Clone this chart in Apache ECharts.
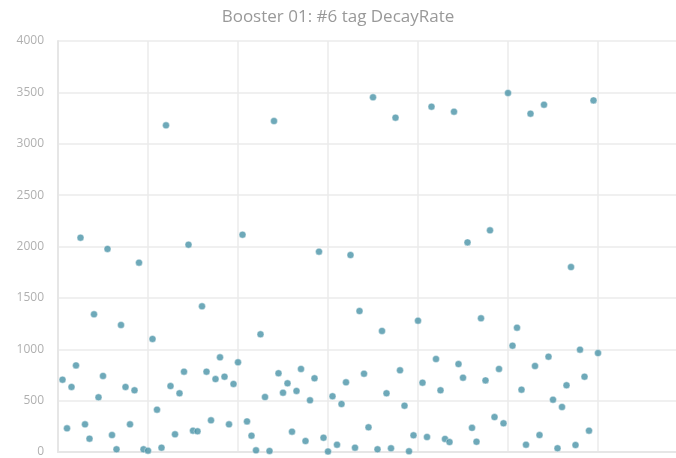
<!DOCTYPE html>
<html>
<head>
<meta charset="utf-8">
<title>Booster 01: #6 tag DecayRate</title>
<script src="https://cdn.jsdelivr.net/npm/echarts@6/dist/echarts.min.js"></script>
<style>
  html, body { margin: 0; padding: 0; background: #fff; }
  #container { width: 676px; height: 458px; }
</style>
</head>
<body>
<div id="container"></div>
<script>
var titleText = 'Booster 01: #6 tag DecayRate';
var yTicks = [0, 500, 1000, 1500, 2000, 2500, 3000, 3500, 4000];
// decay rate per sample, in reading order (sample 1..120)
var decayRate = [
  704, 230, 633, 843, 2086, 269, 130, 1340, 532, 740,
  1976, 165, 26, 1236, 633, 269, 600, 1843, 26, 13,
  1100, 412, 42, 3179, 642, 172, 571, 782, 2018, 208,
  201, 1418, 782, 308, 710, 921, 733, 269, 662, 873,
  2115, 298, 159, 16, 1145, 535, 10, 3221, 766, 577,
  668, 198, 594, 808, 107, 503, 717, 1950, 139, 5,
  542, 71, 467, 678, 1917, 42, 1372, 762, 240, 3452,
  26, 1178, 571, 36, 3254, 795, 451, 7, 162, 1278,
  675, 146, 3361, 905, 600, 127, 97, 3312, 856, 723,
  2040, 235, 100, 1301, 697, 2157, 340, 808, 279, 3494,
  1035, 1210, 607, 71, 3293, 837, 165, 3380, 928, 509,
  36, 438, 649, 1800, 68, 996, 733, 208, 3422, 963
];

var points = [];
for (var i = 0; i < decayRate.length; i++) {
  points.push([i + 1, decayRate[i]]);
}

var myChart = echarts.init(document.getElementById('container'));
var option = {
  animation: false,
  title: {
    text: titleText,
    left: 'center',
    top: 4,
    textStyle: {
      color: '#999',
      fontSize: 17,
      fontWeight: 'normal',
      fontFamily: 'Open Sans'
    }
  },
  grid: {
    left: 58,
    top: 41,
    right: -12,
    bottom: 6,
    outerBoundsMode: 'none'
  },
  xAxis: {
    type: 'value',
    min: 0,
    max: 140,
    interval: 20,
    axisLine: { show: true, lineStyle: { color: '#e6e6e6', width: 2 } },
    axisTick: { show: false },
    axisLabel: { show: false },
    splitLine: { show: true, lineStyle: { color: '#ebebeb', width: 1.5 } }
  },
  yAxis: {
    type: 'value',
    min: yTicks[0],
    max: yTicks[yTicks.length - 1],
    interval: 500,
    axisLine: { show: true, lineStyle: { color: '#e6e6e6', width: 2 } },
    axisTick: { show: false },
    axisLabel: {
      color: '#b0b0b0',
      fontSize: 12,
      margin: 14,
      fontFamily: 'Open Sans',
      formatter: function (v) { return String(v); }
    },
    splitLine: { show: true, lineStyle: { color: '#ebebeb', width: 1.5 } }
  },
  series: [{
    name: 'DecayRate',
    type: 'scatter',
    data: points,
    symbolSize: 7,
    itemStyle: {
      color: '#4a93a8',
      borderColor: '#ffffff',
      borderWidth: 0.5
    }
  }]
};
myChart.setOption(option);
</script>
</body>
</html>
